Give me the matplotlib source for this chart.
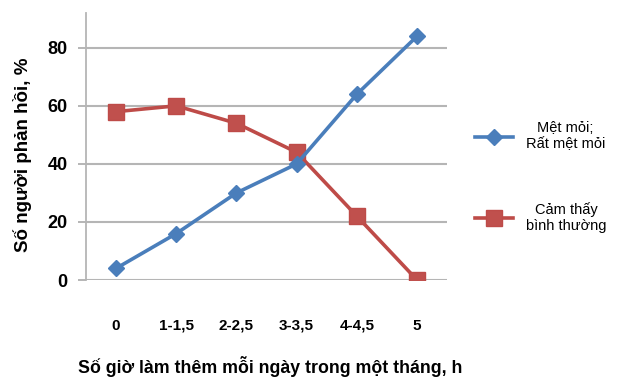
import matplotlib
matplotlib.use('Agg')
from matplotlib import pyplot as plt
import numpy as np

# so lieu
nhom_gio = ['0', '1-1,5', '2-2,5', '3-3,5', '4-4,5', '5']
met_moi = [4, 16, 30, 40, 64, 84]
binh_thuong = [58, 60, 54, 44, 22, 0]
ten_met = 'Mệt mỏi;\nRất mệt mỏi'
ten_bt = 'Cảm thấy\nbình thường'
yticks = [0, 20, 40, 60, 80]

plt.rcParams['font.family'] = ['Liberation Sans', 'DejaVu Sans']

fig = plt.figure(figsize=(6.22, 3.8), dpi=100)
ax = fig.add_axes([0.138, 0.263, 0.581, 0.703])

x = np.arange(len(nhom_gio))
l1, = ax.plot(x, met_moi, color='#4a7ebb', lw=2.6, marker='D', ms=8,
              markerfacecolor='#4a7ebb', markeredgecolor='#4a7ebb', zorder=4)
l2, = ax.plot(x, binh_thuong, color='#be4b48', lw=2.6, marker='s', ms=11,
              markerfacecolor='#c0504d', markeredgecolor='#be4b48', zorder=3)

ax.set_xlim(-0.5, len(nhom_gio) - 0.5)
ax.set_ylim(0, 92)
ax.set_yticks(yticks)
ax.set_yticklabels([str(v) for v in yticks], fontsize=13, fontweight='bold')
ax.set_xticks(x)
ax.set_xticklabels(nhom_gio, fontsize=11, fontweight='bold')
ax.tick_params(axis='x', length=0, pad=28)
ax.tick_params(axis='y', length=6, width=1.3, color='#b0b0b0', pad=7)
ax.yaxis.grid(True, color='#b5b5b5', lw=1.5)
ax.set_axisbelow(True)
for s in ['top', 'right', 'bottom']:
    ax.spines[s].set_visible(False)
ax.spines['left'].set_color('#b5b5b5')
ax.spines['left'].set_linewidth(1.3)

ax.set_xlabel('Số giờ làm thêm mỗi ngày trong một tháng, h', fontsize=12.8,
              fontweight='bold')
ax.xaxis.set_label_coords(0.51, -0.285)
ax.set_ylabel('Số người phản hồi, %', fontsize=13.5, fontweight='bold')
ax.yaxis.set_label_coords(-0.15, 0.47)

leg = ax.legend([l1, l2], [ten_met, ten_bt], loc='center left',
                bbox_to_anchor=(1.04, 0.385), frameon=False, fontsize=10.5,
                labelspacing=3.5, handlelength=2.6, handletextpad=0.9)
for t in leg.get_texts():
    t.set_multialignment('center')

plt.savefig('out.png', dpi=100)
